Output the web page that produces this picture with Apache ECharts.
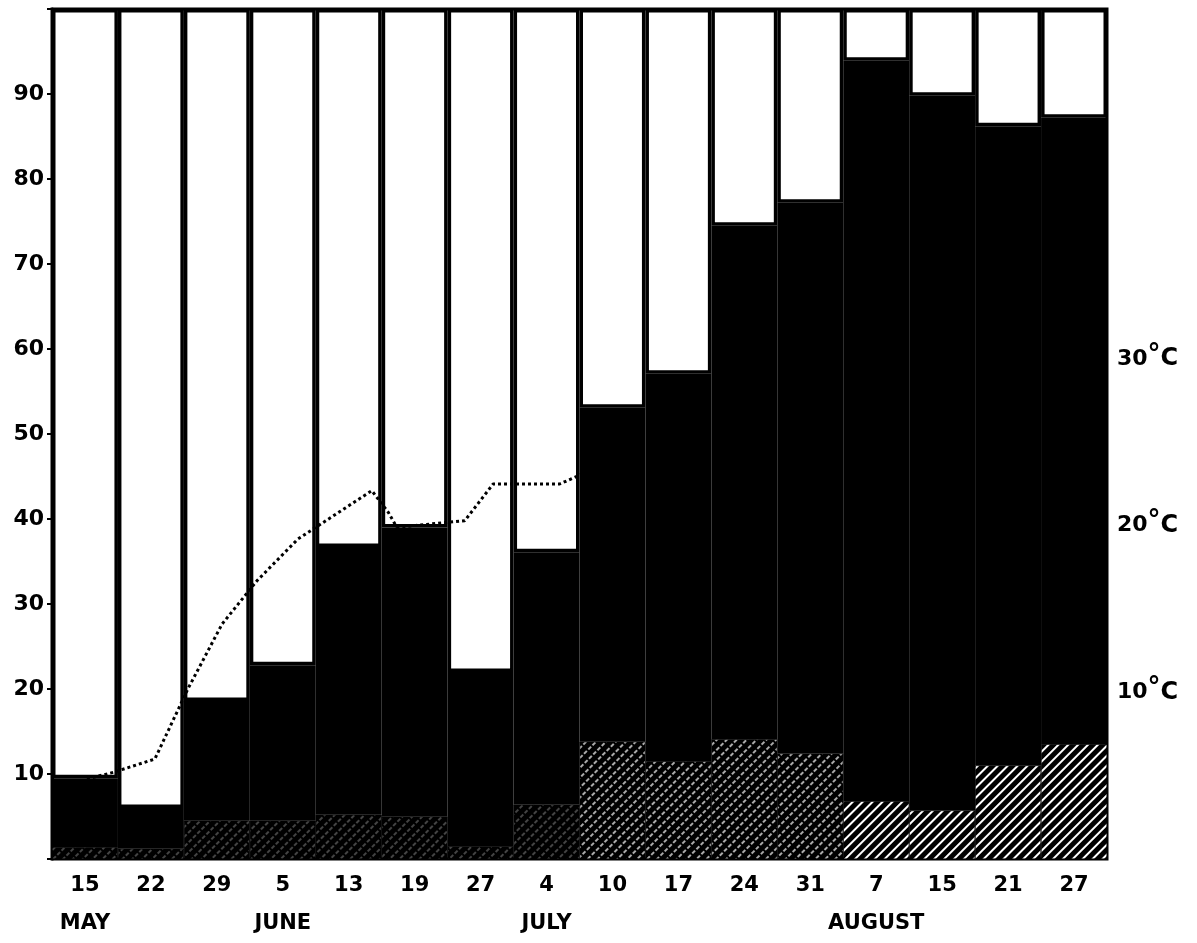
<!DOCTYPE html>
<html>
<head>
<meta charset="utf-8">
<script src="https://cdn.jsdelivr.net/npm/echarts@6/dist/echarts.min.js"></script>
<style>
  html, body { margin: 0; padding: 0; background: #fff; }
  #chart { width: 1197px; height: 943px; }
</style>
</head>
<body>
<div id="chart"></div>
<script>
// week labels and months
const days = ["15", "22", "29", "5", "13", "19", "27", "4", "10", "17", "24", "31", "7", "15", "21", "27"];
const months = ["MAY", "", "", "JUNE", "", "", "", "JULY", "", "", "", "", "AUGUST", "", "", ""];

// top of the black part of each bar (%)
const blackTop = [9.5, 6.0, 18.6, 22.8, 36.7, 39.0, 22.0, 36.1, 53.1, 57.1, 74.5, 77.2, 93.9, 89.8, 86.2, 87.2];
// hatched part at the bottom of each bar (%)
const hatched = [1.4, 1.2, 4.5, 4.5, 5.2, 5.0, 1.5, 6.4, 13.8, 11.5, 14.1, 12.4, 6.8, 5.7, 11.0, 13.5];

// temperature curve: position in weeks from start, degrees C
const tempWeeks = [0.53, 0.93, 1.56, 2.06, 2.58, 3.11, 3.73, 4.85, 5.10, 5.23, 6.26, 6.69, 7.70, 8.04];
const tempValues = [4.8, 5.2, 6.0, 10.2, 14.1, 16.7, 19.2, 22.1, 20.8, 19.9, 20.3, 22.5, 22.5, 23.1];

const font = "DejaVu Sans";
const chart = echarts.init(document.getElementById("chart"));

const blackPart = blackTop.map((v, i) => +(v - hatched[i]).toFixed(1));
const whitePart = blackTop.map(v => +(100 - v).toFixed(1));
const tempData = tempWeeks.map((w, i) => [w, tempValues[i]]);

// early weeks are printed faint, late weeks clear
const hatchData = hatched.map((v, i) => ({
  value: v,
  itemStyle: {
    decal: {
      symbol: "rect",
      color: i < 8 ? "#444" : i < 12 ? "#aaa" : "#fff",
      dashArrayX: i < 12 ? [[4, 2]] : [1, 0],
      dashArrayY: [1.5, 5],
      rotation: -Math.PI / 4
    }
  }
}));

const option = {
  backgroundColor: "#fff",
  animation: false,
  grid: {
    left: 52,
    right: 90,
    top: 9,
    bottom: 71,
    show: true,
    borderColor: "#000",
    borderWidth: 3
  },
  xAxis: [
    {
      type: "category",
      data: days,
      axisLine: { show: false },
      axisTick: { show: false },
      axisLabel: {
        interval: 0,
        margin: 8,
        fontFamily: font,
        fontWeight: "bold",
        fontSize: 21,
        color: "#000",
        lineHeight: 38,
        formatter: (v, i) => v + "\n" + months[i]
      }
    },
    {
      type: "value",
      min: 0,
      max: 16,
      show: false
    }
  ],
  yAxis: [
    {
      type: "value",
      min: 0,
      max: 100,
      interval: 10,
      splitLine: { show: false },
      axisLine: { show: true, lineStyle: { color: "#000", width: 3 } },
      axisTick: { show: true, length: 5, lineStyle: { color: "#000", width: 2 } },
      axisLabel: {
        margin: 8,
        fontFamily: font,
        fontWeight: "bold",
        fontSize: 22,
        color: "#000",
        formatter: v => (v === 0 || v === 100 ? "" : v)
      }
    },
    {
      type: "value",
      min: 0,
      max: 51,
      interval: 10,
      position: "right",
      splitLine: { show: false },
      axisLine: { show: false },
      axisTick: { show: false },
      axisLabel: {
        margin: 10,
        fontFamily: font,
        fontWeight: "bold",
        fontSize: 22,
        color: "#000",
        formatter: v => (v >= 10 && v <= 30 ? "{n|" + v + "}{d|°}{c|C}" : ""),
        rich: {
          n: { fontFamily: font, fontWeight: "bold", fontSize: 22, color: "#000" },
          d: { fontFamily: font, fontWeight: "bold", fontSize: 26, color: "#000", verticalAlign: "top", padding: [0, 0, 8, 0] },
          c: { fontFamily: font, fontSize: 24, color: "#000" }
        }
      }
    }
  ],
  series: [
    {
      name: "hatched",
      type: "bar",
      stack: "total",
      barCategoryGap: "0%",
      data: hatchData,
      itemStyle: { color: "#000", borderColor: "#000", borderWidth: 0.5 }
    },
    {
      name: "black",
      type: "bar",
      stack: "total",
      data: blackPart,
      itemStyle: { color: "#000", borderColor: "#000", borderWidth: 2 }
    },
    {
      name: "white",
      type: "bar",
      stack: "total",
      data: whitePart,
      itemStyle: { color: "#fff", borderColor: "#000", borderWidth: 3.5 }
    },
    {
      name: "temperature",
      type: "line",
      xAxisIndex: 1,
      yAxisIndex: 1,
      data: tempData,
      symbol: "none",
      z: 5,
      lineStyle: { color: "#000", width: 3, type: "dotted" }
    }
  ]
};
chart.setOption(option);
</script>
</body>
</html>
